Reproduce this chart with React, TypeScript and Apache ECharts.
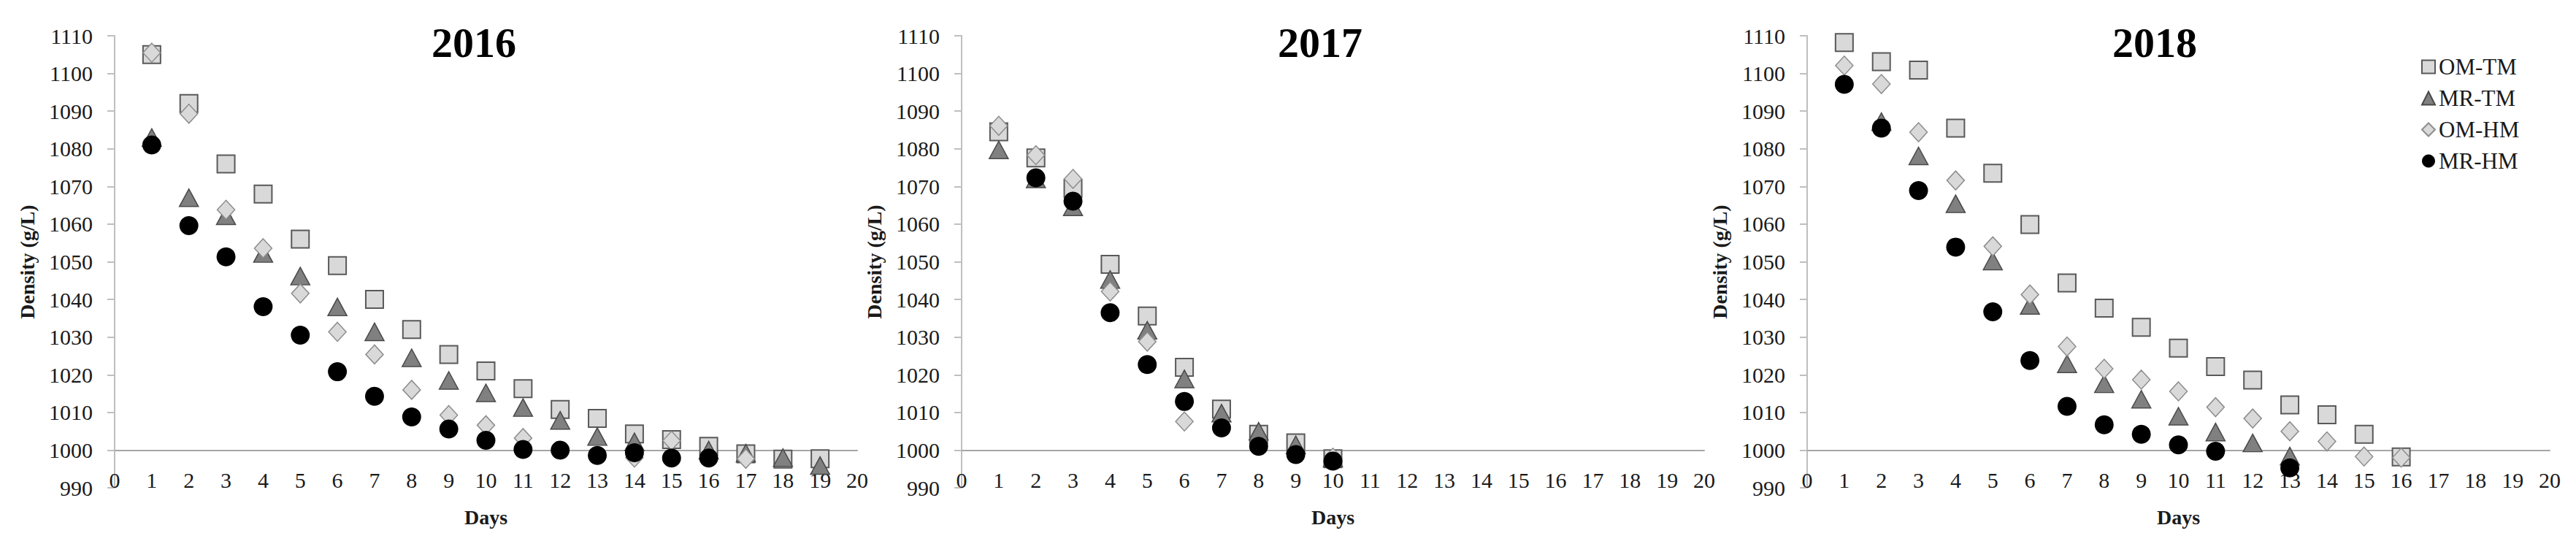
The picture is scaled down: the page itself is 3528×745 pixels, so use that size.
import React, { useEffect, useRef } from "react";
import * as echarts from "echarts";

// ---------- data ----------
const seriesNames = ["OM-TM", "MR-TM", "OM-HM", "MR-HM"];
const panelTitles = ["2016", "2017", "2018"];
const yMin = 990;
const yMax = 1110;
const yStep = 10;
const xMin = 0;
const xMax = 20;
const xStep = 1;
const xAxisTitle = "Days";
const yAxisTitle = "Density (g/L)";

const days2016 = [1, 2, 3, 4, 5, 6, 7, 8, 9, 10, 11, 12, 13, 14, 15, 16, 17, 18, 19];
const omTm2016 = [1105, 1092, 1076, 1068, 1056, 1049, 1040, 1032, 1025.4, 1021, 1016.3, 1010.8, 1008.4, 1004.3, 1002.8, 1001, 999, 997.6, 997.7];
const mrTm2016 = [1083, 1067, 1062.2, 1052.2, 1046.2, 1038, 1031.4, 1024.5, 1018.5, 1015.2, 1011.3, 1007.9, 1003.6, 1002.2, null, 1000, 999.2, 998, 995.9];
const omHm2016 = [1105.5, 1089.3, 1063.8, 1053.6, 1041.6, 1031.4, 1025.4, 1016, 1009.3, 1006.6, 1003.2, null, null, 998, 1002.5, null, 997.7, null, null];
const mrHm2016 = [1081, 1059.6, 1051.3, 1038.1, 1030.5, 1020.8, 1014.3, 1008.8, 1005.6, 1002.6, 1000.2, 1000, 998.6, 999.3, 997.9, 997.9, null, null, null];

const days2017 = [1, 2, 3, 4, 5, 6, 7, 8, 9, 10];
const omTm2017 = [1084.5, 1077.6, 1069.5, 1049.3, 1035.6, 1022, 1010.9, 1004.2, 1001.9, 997.7];
const mrTm2017 = [1079.7, 1072, 1064.6, 1045.3, 1031.8, 1018.9, 1009.8, 1005, 1001.4, 997.9];
const omHm2017 = [1086.1, 1078.3, 1072, 1042.1, 1028.8, 1007.6, null, null, null, 998];
const mrHm2017 = [null, 1072.3, 1066.1, 1036.5, 1022.7, 1012.9, 1005.9, 1001, 998.8, 997.1];

const days2018 = [1, 2, 3, 4, 5, 6, 7, 8, 9, 10, 11, 12, 13, 14, 15, 16];
const omTm2018 = [1108.2, 1103.1, 1100.9, 1085.5, 1073.5, 1059.9, 1044.4, 1037.7, 1032.6, 1027.1, 1022.2, 1018.6, 1012, 1009.4, 1004.2, 998.2];
const mrTm2018 = [null, 1087.2, 1078.1, 1065.4, 1050.2, 1038.4, 1022.9, 1017.6, 1013.5, 1009, 1004.8, 1001.9, 998.4, null, null, null];
const omHm2018 = [1102.1, 1097.2, 1084.4, 1071.6, 1054.1, 1041.3, 1027.5, 1021.6, 1018.7, 1015.6, 1011.4, 1008.4, 1005, 1002.3, 998.3, 998];
const mrHm2018 = [1097.1, 1085.5, 1068.9, 1053.9, 1036.7, 1023.8, 1011.6, 1006.7, 1004.2, 1001.4, 999.7, null, 995.3, null, null, null];

const panels = [
  { days: days2016, values: [omTm2016, mrTm2016, omHm2016, mrHm2016] },
  { days: days2017, values: [omTm2017, mrTm2017, omHm2017, mrHm2017] },
  { days: days2018, values: [omTm2018, mrTm2018, omHm2018, mrHm2018] },
];

// ---------- layout / style ----------
const FONT = '"Liberation Serif", "Times New Roman", serif';
const gridLefts = [157, 1317, 2475];
const gridWidth = 1017;
const gridTop = 49;
const gridHeight = 619;
const titleXs = [649, 1808, 2951];

const markerStyles: any[] = [
  { symbol: "rect", symbolSize: 24, itemStyle: { color: "#d9d9d9", borderColor: "#595959", borderWidth: 2, opacity: 1 } },
  { symbol: "triangle", symbolSize: [26, 24], itemStyle: { color: "#808080", borderColor: "#4a4a4a", borderWidth: 1.5, opacity: 1 } },
  { symbol: "diamond", symbolSize: [24, 26], itemStyle: { color: "#d9d9d9", borderColor: "#8c8c8c", borderWidth: 1.5, opacity: 1 } },
  { symbol: "circle", symbolSize: 26, itemStyle: { color: "#000000", opacity: 1 } },
];

function buildOption() {
  const grid = gridLefts.map((left) => ({ left, top: gridTop, width: gridWidth, height: gridHeight }));
  const unitPx = gridHeight / ((yMax - yMin) / yStep);

  const xAxis = gridLefts.map((_, i) => ({
    type: "value",
    gridIndex: i,
    min: xMin,
    max: xMax,
    interval: xStep,
    offset: -unitPx,
    axisLine: { show: true, lineStyle: { color: "#a6a6a6", width: 2 } },
    axisTick: { show: false },
    splitLine: { show: false },
    axisLabel: { fontFamily: FONT, fontSize: 30, color: "#1a1a1a", margin: 26, formatter: (v: number) => String(v) },
    name: xAxisTitle,
    nameLocation: "middle",
    nameGap: 78,
    nameTextStyle: { fontFamily: FONT, fontSize: 28, fontWeight: "bold", color: "#1a1a1a" },
  }));

  const yAxis = gridLefts.map((_, i) => ({
    type: "value",
    gridIndex: i,
    min: yMin,
    max: yMax,
    interval: yStep,
    axisLine: { show: true, lineStyle: { color: "#bfbfbf", width: 2 } },
    axisTick: { show: true, length: 10, lineStyle: { color: "#bfbfbf", width: 2 } },
    splitLine: { show: false },
    axisLabel: { fontFamily: FONT, fontSize: 30, color: "#1a1a1a", margin: 30, formatter: (v: number) => String(v) },
    name: yAxisTitle,
    nameLocation: "middle",
    nameGap: 106,
    nameTextStyle: { fontFamily: FONT, fontSize: 28, fontWeight: "bold", color: "#1a1a1a" },
  }));

  const series: any[] = [];
  panels.forEach((panel, p) => {
    panel.values.forEach((vals, s) => {
      const data = panel.days
        .map((d, k) => [d, vals[k]])
        .filter((pt) => pt[1] !== null && pt[1] !== undefined);
      series.push({
        type: "scatter",
        name: seriesNames[s],
        xAxisIndex: p,
        yAxisIndex: p,
        data,
        symbol: markerStyles[s].symbol,
        symbolSize: markerStyles[s].symbolSize,
        itemStyle: markerStyles[s].itemStyle,
        emphasis: { disabled: true },
        z: 2 + s,
      });
    });
  });

  const graphic = panelTitles.map((t, i) => ({
    type: "text",
    x: titleXs[i],
    y: 58,
    style: {
      text: t,
      font: `bold 58px ${FONT}`,
      fill: "#000",
      align: "center",
      verticalAlign: "middle",
    },
  }));

  return {
    animation: false,
    backgroundColor: "#ffffff",
    grid,
    xAxis,
    yAxis,
    series,
    graphic,
    legend: {
      data: seriesNames,
      orient: "vertical",
      left: 3316,
      top: 76,
      itemWidth: 18,
      itemHeight: 18,
      itemGap: 12,
      padding: 0,
      textStyle: { fontFamily: FONT, fontSize: 31, lineHeight: 31, color: "#1a1a1a" },
    },
  };
}

export default function App() {
  const ref = useRef<HTMLDivElement>(null);
  useEffect(() => {
    if (!ref.current) return;
    const chart = echarts.init(ref.current, undefined, { renderer: "svg" });
    chart.setOption(buildOption() as any);
    return () => chart.dispose();
  }, []);
  return (
    <div
      ref={ref}
      style={{ position: "fixed", left: 0, top: 0, width: 3528, height: 745, background: "#fff" }}
    />
  );
}
